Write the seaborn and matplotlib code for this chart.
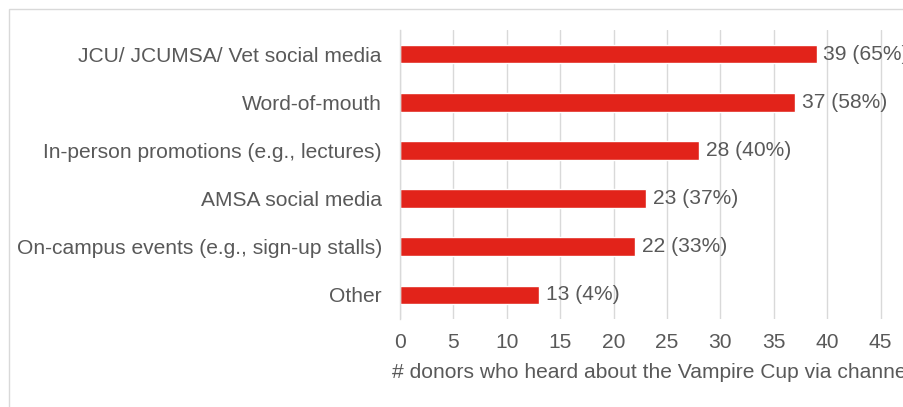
import matplotlib
matplotlib.use("Agg")
import matplotlib.pyplot as plt
from matplotlib.patches import Rectangle
import seaborn as sns
import pandas as pd

channels = [
    "JCU/ JCUMSA/ Vet social media",
    "Word-of-mouth",
    "In-person promotions (e.g., lectures)",
    "AMSA social media",
    "On-campus events (e.g., sign-up stalls)",
    "Other",
]
donors = [39, 37, 28, 23, 22, 13]
percents = [65, 58, 40, 37, 33, 4]
x_ticks = [0, 5, 10, 15, 20, 25, 30, 35, 40, 45]
x_label = "# donors who heard about the Vampire Cup via channel"

sns.set_theme(style="white")
plt.rcParams["font.family"] = ["Liberation Sans", "DejaVu Sans"]

text_color = "#595959"
grid_color = "#D9D9D9"
bar_color = "#E2231A"
fs = 15.1

df = pd.DataFrame({"channel": channels, "donors": donors})

fig = plt.figure(figsize=(9.04, 4.07), dpi=100)
fig.patches.append(Rectangle((9 / 904, -0.1), 1.2, 1 - 9 / 407 + 0.1,
                             transform=fig.transFigure, fill=False,
                             edgecolor="#D9D9D9", linewidth=1.0))

ax = fig.add_axes([400 / 904, 1 - 319 / 407, 534 / 904, 289 / 407])
sns.barplot(data=df, x="donors", y="channel", orient="h", color=bar_color,
            width=0.39, saturation=1, ax=ax)

ax.set_xlim(0, 50)
ax.set_ylim(5.5, -0.5)
ax.set_xticks(x_ticks)
ax.xaxis.grid(True, color=grid_color, linewidth=1.0)
ax.set_axisbelow(True)
for side in ["top", "right", "bottom"]:
    ax.spines[side].set_visible(False)
ax.spines["left"].set_color(grid_color)
ax.spines["left"].set_linewidth(1.0)

ax.tick_params(axis="y", length=0, pad=13, labelsize=fs, labelcolor=text_color)
ax.tick_params(axis="x", length=0, pad=10, labelsize=fs, labelcolor=text_color)
ax.set_ylabel("")
ax.set_xlabel("")
fig.text(392 / 904, 1 - 372 / 407, x_label, fontsize=fs, color=text_color,
         ha="left", va="center")

labels = [f"{d} ({p}%)" for d, p in zip(donors, percents)]
ax.bar_label(ax.containers[0], labels=labels, padding=5, fontsize=fs,
             color=text_color)

fig.savefig("out.png", dpi=100)
